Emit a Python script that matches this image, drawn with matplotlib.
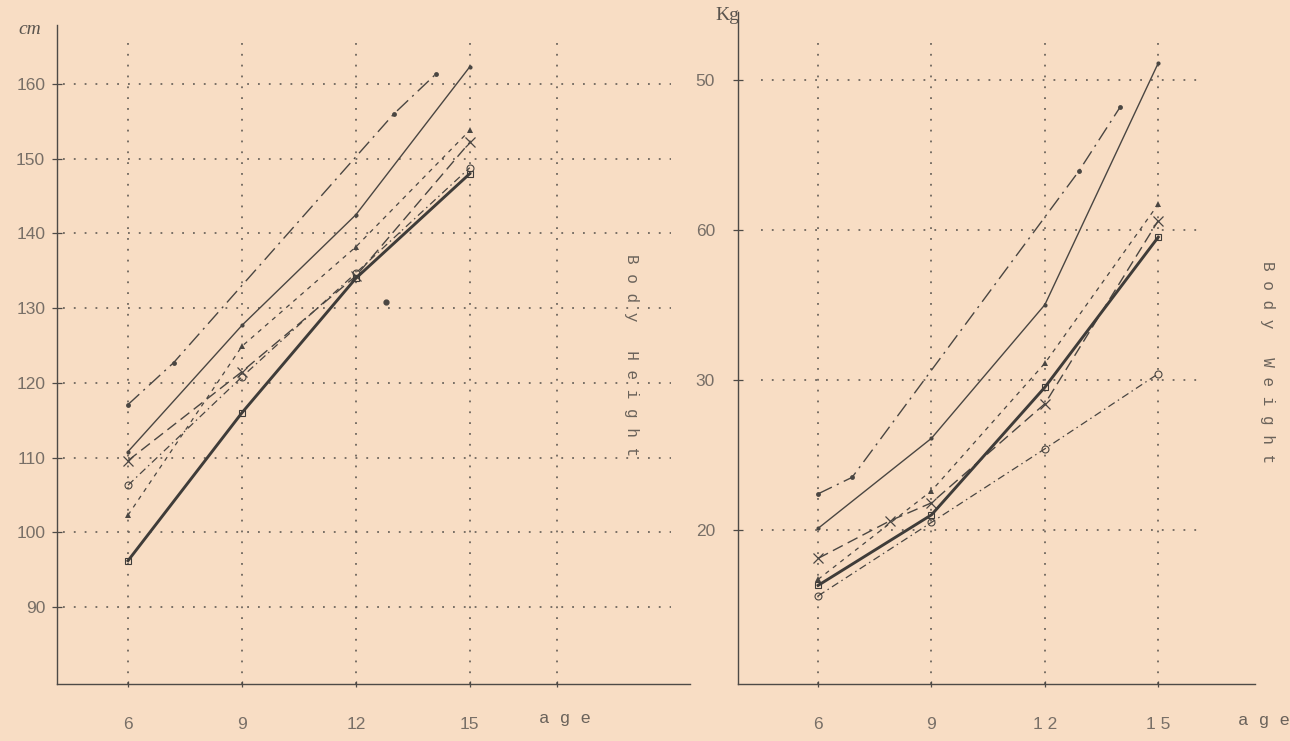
# -*- coding: utf-8 -*-
"""Body height / body weight by age — two-panel line chart recreated from an old printed figure."""
import matplotlib
matplotlib.use("Agg")
import matplotlib.pyplot as plt

# ---- data ----
ages = [6, 9, 12, 15]
ages_c_h = [6, 7.2, 13.0, 14.1]
ages_c_w = [6, 6.9, 12.9, 14.0]
ages_d_w = [6, 7.9, 9, 12, 15]

height_a = [96.2, 116.0, 134.0, 148.0]
height_b = [110.8, 127.7, 142.5, 162.3]
height_c = [117.1, 122.7, 156.0, 161.3]
height_d = [109.6, 121.5, 134.3, 152.2]
height_e = [102.3, 124.9, 138.2, 153.8]
height_f = [106.3, 120.8, 134.7, 148.8]
stray_h = ([12.8], [130.8])

weight_a = [16.3, 21.0, 29.5, 39.5]
weight_b = [20.1, 26.1, 35.0, 51.1]
weight_c = [22.4, 23.5, 43.9, 48.2]
weight_d = [18.1, 20.6, 21.8, 28.4, 40.6]
weight_e = [16.7, 22.6, 31.1, 41.7]
weight_f = [15.6, 20.5, 25.4, 30.4]

h_ticks = [90, 100, 110, 120, 130, 140, 150, 160]
h_ticklabels = ["90", "100", "110", "120", "130", "140", "150", "160"]
w_ticks = [20, 30, 40, 50]
w_ticklabels = ["20", "30", "60", "50"]
h_xticklabels = ["6", "9", "12", "15"]
w_xticklabels = ["6", "9", "1 2", "1 5"]

# ---- style ----
BG = "#F8DDC4"
INK = "#4a4642"
GRID = "#6e665e"
LBL = "#786f67"
W, H = 1290, 741

STY = dict(
    a=dict(color="#3f3c39", lw=2.1, ls="-", marker="s", ms=4, mfc="none", mew=0.8),
    b=dict(color=INK, lw=1.0, ls="-", marker="o", ms=3, mfc=INK, mew=0),
    c=dict(color=INK, lw=1.0, ls=(0, (11, 4, 1.5, 4)), marker="o", ms=3.5, mfc=INK, mew=0),
    d=dict(color=INK, lw=1.0, ls=(0, (8, 4)), marker="x", ms=7, mew=0.9),
    e=dict(color=INK, lw=0.9, ls=(0, (3.5, 4)), marker="^", ms=4, mfc=INK, mew=0),
    f=dict(color=INK, lw=0.9, ls=(0, (6, 3, 1.2, 3)), marker="o", ms=5, mfc="none", mew=0.8),
)


def px_rect(x0, y0, x1, y1):
    return [x0 / W, 1 - y1 / H, (x1 - x0) / W, (y1 - y0) / H]


def base_axes(ax):
    ax.set_facecolor("none")
    for s in ("top", "right"):
        ax.spines[s].set_visible(False)
    for s in ("left", "bottom"):
        ax.spines[s].set_color("#4e4a46")
        ax.spines[s].set_linewidth(1.0)
    ax.tick_params(axis="y", direction="inout", length=7, width=0.9, color="#4e4a46",
                   labelsize=12.5, labelcolor=LBL, pad=5)
    ax.tick_params(axis="x", direction="inout", length=5, width=0.9, color="#4e4a46",
                   labelsize=12.5, labelcolor=LBL, pad=21)
    for t in ax.get_xticklabels() + ax.get_yticklabels():
        t.set_fontfamily("Liberation Sans")


fig = plt.figure(figsize=(W / 100, H / 100), dpi=100)
fig.patch.set_facecolor(BG)

# ---------------- left: body height ----------------
ax1 = fig.add_axes(px_rect(57, 25, 690, 684))
ax1.set_xlim(4.13, 20.8)
ax1.set_ylim(79.7, 167.9)
ax1.set_xticks(ages + [17.3])
ax1.set_xticklabels(h_xticklabels + [""])
ax1.set_yticks(h_ticks)
ax1.set_yticklabels(h_ticklabels)
base_axes(ax1)
ax1.hlines(h_ticks, 4.3, 20.3, colors=GRID, lw=1.3, linestyles=(0, (1, 5)), zorder=1)
ax1.vlines(ages + [17.3], 79.7, 166.0, colors=GRID, lw=1.3, linestyles=(0, (1, 5)), zorder=1)

ax1.plot(ages, height_a, **STY["a"], zorder=4)
ax1.plot(ages, height_b, **STY["b"], zorder=3)
ax1.plot(ages_c_h, height_c, **STY["c"], zorder=3)
ax1.plot(ages, height_d, **STY["d"], zorder=3)
ax1.plot(ages, height_e, **STY["e"], zorder=3)
ax1.plot(ages, height_f, **STY["f"], zorder=3)
ax1.plot(*stray_h, "o", color=INK, ms=3.5, zorder=3)

fig.text(30 / W, 1 - 30 / H, "cm", ha="center", va="center", fontsize=14,
         family="Liberation Serif", style="italic", color="#5a544e")
fig.text(565 / W, 1 - 718 / H, "a g e", ha="center", va="center", fontsize=12.5,
         family="Liberation Mono", color="#6a625a")
fig.text(632 / W, 1 - 355 / H, "B o d y   H e i g h t", rotation=-90, ha="center",
         va="center", fontsize=11.5, family="Liberation Mono", color="#6a625a")

# ---------------- right: body weight ----------------
ax2 = fig.add_axes(px_rect(738, 12, 1255, 684))
ax2.set_xlim(3.88, 17.56)
ax2.set_ylim(9.73, 54.5)
ax2.set_xticks(ages)
ax2.set_xticklabels(w_xticklabels)
ax2.set_yticks(w_ticks)
ax2.set_yticklabels(w_ticklabels)
base_axes(ax2)
ax2.tick_params(axis="y", pad=13)
ax2.hlines(w_ticks, 4.5, 16.1, colors=GRID, lw=1.3, linestyles=(0, (1, 5)), zorder=1)
ax2.vlines(ages, 9.73, 53.0, colors=GRID, lw=1.3, linestyles=(0, (1, 5)), zorder=1)

ax2.plot(ages, weight_a, **STY["a"], zorder=4)
ax2.plot(ages, weight_b, **STY["b"], zorder=3)
ax2.plot(ages_c_w, weight_c, **STY["c"], zorder=3)
ax2.plot(ages_d_w, weight_d, **STY["d"], zorder=3)
ax2.plot(ages, weight_e, **STY["e"], zorder=3)
ax2.plot(ages, weight_f, **STY["f"], zorder=3)

fig.text(727 / W, 1 - 16 / H, "Kg", ha="center", va="center", fontsize=14,
         family="Liberation Serif", color="#5a544e")
fig.text(1264 / W, 1 - 720 / H, "a g e", ha="center", va="center", fontsize=12.5,
         family="Liberation Mono", color="#6a625a")
fig.text(1268 / W, 1 - 362 / H, "B o d y   W e i g h t", rotation=-90, ha="center",
         va="center", fontsize=11.5, family="Liberation Mono", color="#6a625a")

fig.savefig("out.png", dpi=100, facecolor=BG)
